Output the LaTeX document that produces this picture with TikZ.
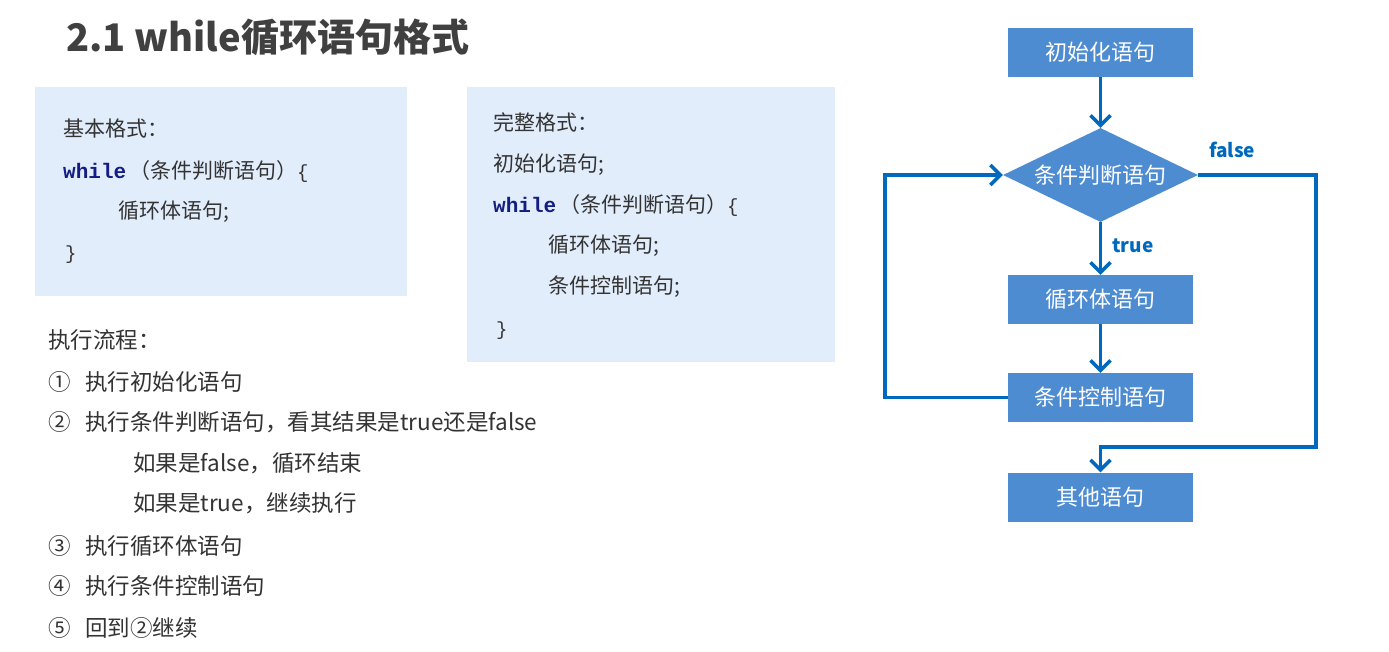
\documentclass[tikz,border=0pt]{standalone}
\usepackage{fontspec}
\setmainfont{Noto Sans CJK SC}
\newfontfamily\mono{Liberation Mono}
\usetikzlibrary{shapes.geometric,arrows.meta}
\definecolor{txt}{RGB}{51,51,51}
\definecolor{titlec}{RGB}{64,64,64}
\definecolor{panel}{RGB}{226,237,252}
\definecolor{nodeblue}{RGB}{78,140,210}
\definecolor{arrblue}{RGB}{0,105,190}
\definecolor{kwc}{RGB}{20,30,130}
\newcommand\kwd[1]{{\mono\bfseries\color{kwc}#1}}
\newcommand\brc[1]{{\mono\fontsize{19}{22}\selectfont #1}}
\begin{document}
\begin{tikzpicture}[x=1pt,y=-1pt,
 txtnode/.style={anchor=base west, inner sep=0pt, text=txt, font=\fontsize{21}{25}\selectfont},
 listnode/.style={anchor=base west, inner sep=0pt, text=txt, font=\fontsize{22.5}{26}\selectfont},
 fbox/.style={rectangle, fill=nodeblue, minimum width=185pt, minimum height=49pt, inner sep=0pt, text=white, font=\fontsize{22}{26}\selectfont},
 fdia/.style={diamond, shape aspect=2.07, fill=nodeblue, minimum width=195pt, minimum height=94pt, inner sep=0pt, text=white, font=\fontsize{22}{26}\selectfont},
 arr/.style={draw=arrblue, line width=3.5pt, -{Straight Barb[length=10pt,width=20pt]}},
 lbl/.style={text=arrblue, font=\bfseries\fontsize{19}{22}\selectfont, inner sep=0pt}
]
\useasboundingbox (0,0) rectangle (1389,651);
\fill[white] (0,0) rectangle (1389,651);

% title
\node[anchor=base west, inner sep=0pt, text=titlec, font=\bfseries\fontsize{38}{44}\selectfont] (title) at (66,51) {2.1 while循环语句格式};

% panels
\fill[panel] (35,87) rectangle (407,296);
\fill[panel] (467,87) rectangle (835,362);

% panel 1
\node[txtnode] (b1a) at (63,136) {基本格式：};
\node[txtnode] (b1b) at (63,178) {\kwd{while}\hspace{3pt}（条件判断语句）\brc{\{}};
\node[txtnode] (b1c) at (118,218) {循环体语句;};
\node[txtnode] (b1d) at (65,259) {\brc{\}}};

% panel 2
\node[txtnode] (b2a) at (493,130) {完整格式：};
\node[txtnode] (b2b) at (493,171) {初始化语句;};
\node[txtnode] (b2c) at (493,212) {\kwd{while}\hspace{3pt}（条件判断语句）\brc{\{}};
\node[txtnode] (b2d) at (548,252) {循环体语句;};
\node[txtnode] (b2e) at (548,293) {条件控制语句;};
\node[txtnode] (b2f) at (496,335) {\brc{\}}};

% execution flow list
\node[listnode] (l0) at (48,348) {执行流程：};
\node[listnode] (n1) at (48,390) {①};
\node[listnode] (l1) at (85,390) {执行初始化语句};
\node[listnode] (n2) at (48,430) {②};
\node[listnode] (l2) at (85,430) {执行条件判断语句，看其结果是true还是false};
\node[listnode] (l2a) at (133,471) {如果是false，循环结束};
\node[listnode] (l2b) at (133,511) {如果是true，继续执行};
\node[listnode] (n3) at (48,554) {③};
\node[listnode] (l3) at (85,554) {执行循环体语句};
\node[listnode] (n4) at (48,594) {④};
\node[listnode] (l4) at (85,594) {执行条件控制语句};
\node[listnode] (n5) at (48,636) {⑤};
\node[listnode] (l5) at (85,636) {回到②继续};

% flowchart
\node[fbox] (init) at (1100.5,52.5) {初始化语句};
\node[fdia] (dia) at (1100.5,175) {条件判断语句};
\node[fbox] (body) at (1100.5,299.5) {循环体语句};
\node[fbox] (ctrl) at (1100.5,397.5) {条件控制语句};
\node[fbox] (other) at (1100.5,497) {其他语句};

\coordinate (lp) at (885,175);
\coordinate (fr) at (1316,447);

\draw[arr] (init) -- (dia);
\draw[arr] (dia) -- (body);
\draw[arr] (body) -- (ctrl);
\draw[arr] (ctrl.west) -| (lp) -- (dia.west);
\draw[arr] (dia.east) -| (fr) -| (other.north);

\node[lbl] (tlab) at (1133,246) {true};
\node[lbl] (flab) at (1232,150) {false};
\end{tikzpicture}
\end{document}
